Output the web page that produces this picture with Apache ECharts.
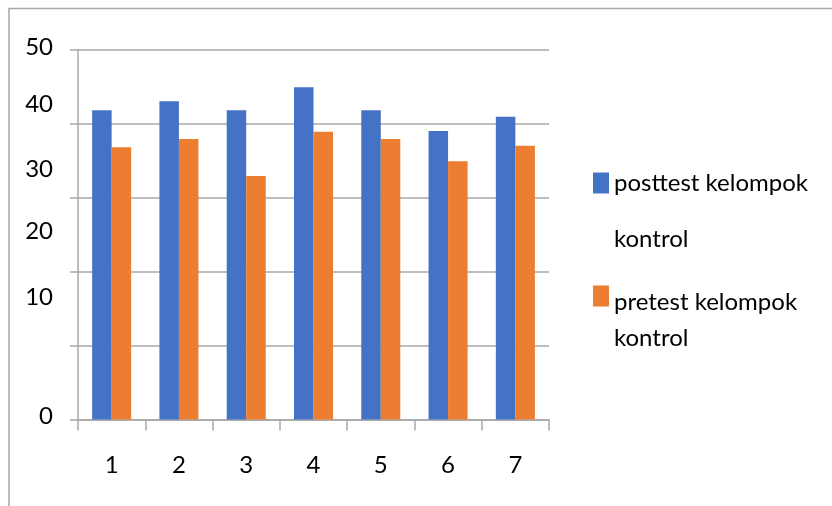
<!DOCTYPE html>
<html>
<head>
<meta charset="utf-8">
<script src="https://cdn.jsdelivr.net/npm/echarts@6/dist/echarts.min.js"></script>
<style>
html,body{margin:0;padding:0;background:#fff;}
#chart{width:832px;height:506px;}
</style>
</head>
<body>
<div id="chart"></div>
<script>
const categories = ['1', '2', '3', '4', '5', '6', '7'];
const posttestKontrol = [41.8, 43.0, 41.8, 44.9, 41.8, 39.0, 40.9];
const pretestKontrol = [36.8, 37.9, 32.9, 38.9, 37.9, 34.9, 37.0];
const seriesNames = ['posttest kelompok kontrol', 'pretest kelompok kontrol'];
const yTickLabels = ['0', '10', '20', '30', '40', '50'];

// upward shift (px) of each y tick label as drawn in the reference
const labelShift = {0: 3, 10: 48, 20: 40, 30: 28, 40: 19, 50: 2};

const FONT = 'Lato, "Open Sans", sans-serif';
const FS = 24;
const GRID = '#a8a8a8';

const yRich = {};
yTickLabels.forEach(function (t) {
  yRich['v' + t] = {
    fontFamily: FONT, fontSize: FS, color: '#000',
    padding: [0, 0, labelShift[t] * 2, 0]
  };
});

const chart = echarts.init(document.getElementById('chart'), null, {renderer: 'canvas'});
chart.setOption({
  animation: false,
  backgroundColor: '#fff',
  color: ['#4472C4', '#ED7D31'],
  grid: {left: 78, right: 283, top: 49.5, bottom: 86.5, containLabel: false},
  graphic: [{
    type: 'rect', silent: true, z: -10,
    shape: {x: 9, y: 8.5, width: 1000, height: 700},
    style: {fill: 'none', stroke: '#a8a8a8', lineWidth: 1.5}
  }],
  legend: [{
    data: [seriesNames[0]],
    orient: 'vertical', left: 593, top: 115, padding: 0,
    itemWidth: 16, itemHeight: 21, icon: 'rect',
    formatter: function () { return '{s| }\n{a|posttest kelompok}\n{a|kontrol}'; },
    textStyle: {
      fontFamily: FONT, fontSize: FS, color: '#000',
      rich: {
        s: {fontFamily: FONT, fontSize: FS, lineHeight: 56},
        a: {fontFamily: FONT, fontSize: FS, lineHeight: 56, color: '#000'}
      }
    }
  }, {
    data: [seriesNames[1]],
    orient: 'vertical', left: 593, top: 248, padding: 0,
    itemWidth: 16, itemHeight: 21, icon: 'rect',
    formatter: function () { return '{s| }\n{a|pretest kelompok}\n{a|kontrol}'; },
    textStyle: {
      fontFamily: FONT, fontSize: FS, color: '#000',
      rich: {
        s: {fontFamily: FONT, fontSize: FS, lineHeight: 49},
        a: {fontFamily: FONT, fontSize: FS, lineHeight: 36, color: '#000'}
      }
    }
  }],
  xAxis: {
    type: 'category',
    data: categories,
    boundaryGap: true,
    axisLine: {show: true, lineStyle: {color: GRID, width: 1.5}},
    axisTick: {show: true, length: 11, alignWithLabel: false, lineStyle: {color: GRID, width: 1.5}},
    axisLabel: {fontFamily: FONT, fontSize: FS, color: '#000', margin: 34},
    splitLine: {show: false}
  },
  yAxis: {
    type: 'value',
    min: 0, max: 50, interval: 10,
    axisLine: {show: true, lineStyle: {color: GRID, width: 1.5}},
    axisTick: {show: true, length: 8, lineStyle: {color: GRID, width: 1.5}},
    splitLine: {show: true, lineStyle: {color: GRID, width: 1.5}},
    axisLabel: {
      margin: 25,
      formatter: function (v) { return '{v' + v + '|' + v + '}'; },
      rich: yRich
    }
  },
  series: [{
    name: seriesNames[0], type: 'bar', data: posttestKontrol,
    barWidth: '29%', barGap: '0%'
  }, {
    name: seriesNames[1], type: 'bar', data: pretestKontrol,
    barWidth: '29%', barGap: '0%'
  }]
});
</script>
</body>
</html>
